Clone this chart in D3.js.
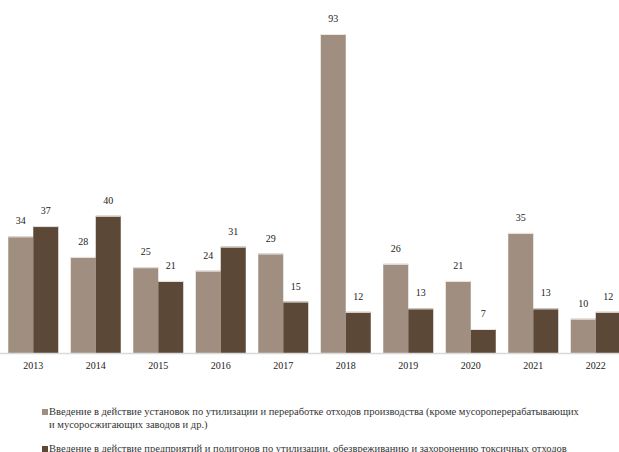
<!DOCTYPE html>
<html><head><meta charset="utf-8">
<script src="https://cdn.jsdelivr.net/npm/d3@7"></script>
<style>
html,body{margin:0;padding:0;background:#fff;overflow:hidden;}
svg{display:block;}
svg text{font-family:"Liberation Serif","Times New Roman",serif;}
</style></head>
<body>
<svg id="chart" width="619" height="452"></svg>
<script>
const years = ["2013","2014","2015","2016","2017","2018","2019","2020","2021","2022"];
const seriesA = [34,28,25,24,29,93,26,21,35,10];
const seriesB = [37,40,21,31,15,12,13,7,13,12];
const seriesNames = [
  ["Введение в действие установок по утилизации и переработке отходов производства (кроме мусороперерабатывающих", "и мусоросжигающих заводов и др.)"],
  ["Введение в действие предприятий и полигонов по утилизации, обезвреживанию и захоронению токсичных отходов"]
];
const colors = ["#a08f80", "#5c4836"];

const svg = d3.select("#chart");
const x = d3.scaleBand().domain(years).range([2, 627]).padding(0);
const y = d3.scaleLinear().domain([0, 93]).range([353, 34]);
const bw = x.bandwidth() * 0.4;

const g = svg.append("g");
const data = years.map((yr, i) => ({yr, a: seriesA[i], b: seriesB[i]}));

[["a", -1, 0], ["b", 0, 1]].forEach(([k, off, ci]) => {
  g.selectAll("rect." + k).data(data).enter().append("rect")
    .attr("x", d => x(d.yr) + x.bandwidth()/2 + off*bw)
    .attr("y", d => y(d[k]))
    .attr("width", bw)
    .attr("height", d => y(0) - y(d[k]))
    .attr("fill", colors[ci]);
  g.selectAll("line.top" + k).data(data).enter().append("line")
    .attr("x1", d => x(d.yr) + x.bandwidth()/2 + off*bw)
    .attr("x2", d => x(d.yr) + x.bandwidth()/2 + off*bw + bw)
    .attr("y1", d => y(d[k]) + 0.5).attr("y2", d => y(d[k]) + 0.5)
    .attr("stroke", "#ede8e3").attr("stroke-width", 1);
  g.selectAll("text.v" + k).data(data).enter().append("text")
    .attr("x", d => x(d.yr) + x.bandwidth()/2 + off*bw + bw/2)
    .attr("y", d => y(d[k]) - 12)
    .attr("text-anchor", "middle")
    .attr("font-size", 10).attr("fill", "#222")
    .text(d => d[k]);
});

// axis
const axis = d3.axisBottom(x).tickSize(0).tickPadding(9);
const ag = svg.append("g").attr("transform", "translate(0,353)").call(axis);
ag.select(".domain").remove();
svg.append("line").attr("x1", 0).attr("x2", 619).attr("y1", 353.5).attr("y2", 353.5)
  .attr("stroke", "#d9d9d9").attr("stroke-width", 1.5);
ag.selectAll("text").attr("font-family", null).attr("font-size", 10).attr("fill", "#222");

// legend
const lg = svg.append("g");
const legY = [415, 452];
seriesNames.forEach((lines, i) => {
  lg.append("rect").attr("x", 42).attr("y", legY[i] - 6).attr("width", 6).attr("height", 6).attr("fill", colors[i]);
  lines.forEach((t, j) => {
    lg.append("text").attr("x", 49).attr("y", legY[i] + j*13)
      .attr("font-size", 10.5).attr("fill", "#333").text(t);
  });
});
</script>
</body></html>
